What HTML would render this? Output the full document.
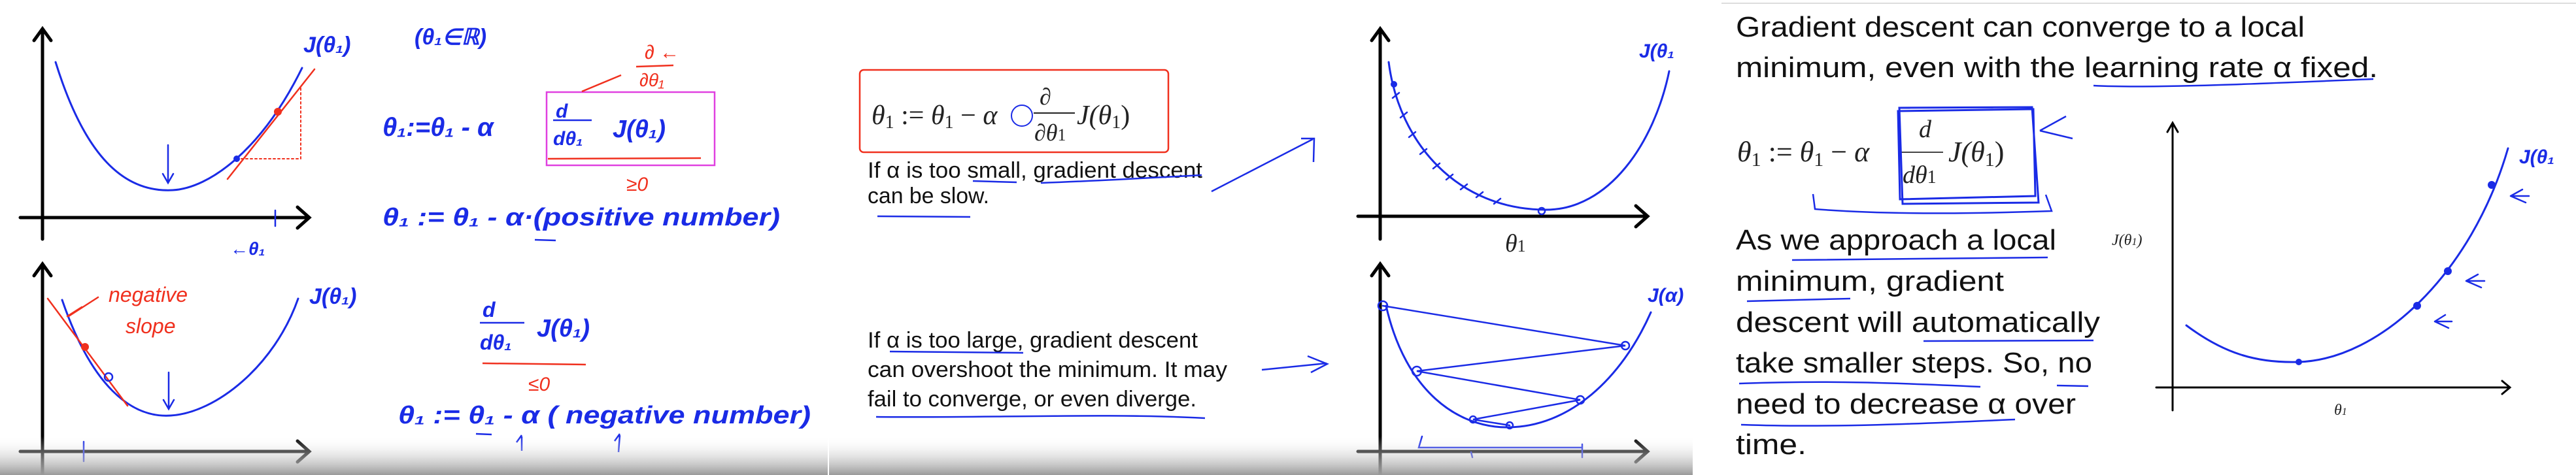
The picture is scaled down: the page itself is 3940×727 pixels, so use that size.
<!DOCTYPE html>
<html><head><meta charset="utf-8"><style>
html,body{margin:0;padding:0;background:#fff;}
svg{display:block;}
.hw{font-family:"Liberation Sans",sans-serif;font-style:italic;fill:#1a2be6;font-weight:bold;}
.hr{font-family:"Liberation Sans",sans-serif;font-style:italic;fill:#f0301e;}
.tx{font-family:"Liberation Sans",sans-serif;fill:#111;}
.mt{font-family:"Liberation Serif",serif;fill:#222;}
</style></head><body>
<svg width="3940" height="727" viewBox="0 0 3940 727" xmlns="http://www.w3.org/2000/svg">
<defs>
<linearGradient id="fade" x1="0" y1="0" x2="0" y2="1"><stop offset="0" stop-color="#fff" stop-opacity="0"/><stop offset="1" stop-color="#999"/></linearGradient>
</defs>
<rect width="3940" height="727" fill="#fff"/>

<!-- PANEL 1 -->
<g>
 <g stroke-linecap="round" fill="none">
  <path d="M65,366 L65,46 M52,62 L65,44 L78,62" stroke="#000" stroke-width="5"/>
  <path d="M31,333 L471,333 M455,317 L473,333 L455,349" stroke="#000" stroke-width="5"/>
  <path d="M85,95 C130,240 190,295 264,291 C320,288 400,230 462,104" stroke="#1a2be6" stroke-width="3"/>
  <path d="M348,274 L481,106" stroke="#f0301e" stroke-width="2.5"/>
  <path d="M362,243 L460,243 L460,134" stroke="#f0301e" stroke-width="2" stroke-dasharray="3,4"/>
  <path d="M257,222 L257,278 M249,266 L257,280 L265,266" stroke="#1a2be6" stroke-width="2.5"/>
  <line x1="421" y1="322" x2="421" y2="346" stroke="#1a2be6" stroke-width="2.5"/>
  <circle cx="425" cy="171" r="6" fill="#f0301e" stroke="none"/>
  <circle cx="362" cy="243" r="5" fill="#1a2be6" stroke="none"/>
 </g>
 <text x="464" y="80" class="hw" font-size="34">J(θ₁)</text>
 <text x="634" y="68" class="hw" font-size="34">(θ₁∈ℝ)</text>
 <text x="352" y="390" class="hw" font-size="28">←θ₁</text>
 <text x="585" y="208" class="hw" font-size="40">θ₁:=θ₁ - α</text>
 <rect x="836" y="141" width="257" height="112" fill="none" stroke="#e040e0" stroke-width="2.5"/>
 <text x="850" y="180" class="hw" font-size="30">d</text>
 <line x1="846" y1="184" x2="905" y2="184" stroke="#1a2be6" stroke-width="2.5"/>
 <text x="846" y="222" class="hw" font-size="30">dθ₁</text>
 <text x="937" y="210" class="hw" font-size="38">J(θ₁)</text>
 <text x="986" y="90" class="hr" font-size="30">∂ ←</text>
 <line x1="973" y1="102" x2="1030" y2="100" stroke="#f0301e" stroke-width="2.5"/>
 <text x="978" y="132" class="hr" font-size="28">∂θ₁</text>
 <path d="M950,115 L890,140 M838,243 L1072,242" stroke="#f0301e" stroke-width="2.5" fill="none"/>
 <text x="958" y="292" class="hr" font-size="30">≥0</text>
 <text x="585" y="345" class="hw" font-size="38" textLength="608" lengthAdjust="spacingAndGlyphs">θ₁ := θ₁ - α·(positive number)</text>
 <line x1="818" y1="367" x2="850" y2="368" stroke="#1a2be6" stroke-width="2.5"/>

 <g stroke-linecap="round" fill="none">
  <path d="M65,727 L65,406 M52,422 L65,404 L78,422" stroke="#000" stroke-width="5"/>
  <path d="M31,691 L471,691 M455,675 L473,691 L455,707" stroke="#000" stroke-width="5"/>
  <path d="M95,459 C140,590 200,640 261,636 C330,632 420,560 456,457" stroke="#1a2be6" stroke-width="3"/>
  <path d="M73,457 L195,621" stroke="#f0301e" stroke-width="2.5"/>
  <path d="M150,455 L105,484 M103,484 L125,470" stroke="#f0301e" stroke-width="2.5"/>
  <path d="M258,570 L258,625 M250,612 L258,626 L266,612" stroke="#1a2be6" stroke-width="2.5"/>
  <line x1="128" y1="676" x2="128" y2="706" stroke="#1a2be6" stroke-width="2.5"/>
  <circle cx="130" cy="531" r="6" fill="#f0301e" stroke="none"/>
  <circle cx="166" cy="577" r="6" stroke="#1a2be6" stroke-width="2.5"/>
 </g>
 <text x="166" y="462" class="hr" font-size="32">negative</text>
 <text x="192" y="510" class="hr" font-size="32">slope</text>
 <text x="473" y="465" class="hw" font-size="34">J(θ₁)</text>
 <text x="738" y="485" class="hw" font-size="32">d</text>
 <line x1="734" y1="494" x2="802" y2="494" stroke="#1a2be6" stroke-width="2.5"/>
 <text x="734" y="535" class="hw" font-size="32">dθ₁</text>
 <text x="821" y="515" class="hw" font-size="38">J(θ₁)</text>
 <line x1="738" y1="556" x2="896" y2="558" stroke="#f0301e" stroke-width="2.5"/>
 <text x="808" y="598" class="hr" font-size="30">≤0</text>
 <text x="609" y="648" class="hw" font-size="38" textLength="631" lengthAdjust="spacingAndGlyphs">θ₁ := θ₁ - α ( negative number)</text>
 <path d="M728,664 L752,665 M798,690 L798,668 M790,677 L798,666 M946,692 L948,666 M940,675 L948,664" stroke="#1a2be6" stroke-width="2.5" fill="none"/>
</g>

<!-- PANEL 2 -->
<g>
 <rect x="1315" y="107" width="472" height="126" rx="6" fill="none" stroke="#f0301e" stroke-width="2.5"/>
 <text x="1333" y="190" class="mt" font-size="42" font-style="italic">θ<tspan font-size="28" font-style="normal" dy="6">1</tspan><tspan dy="-6" font-style="normal"> := </tspan>θ<tspan font-size="28" font-style="normal" dy="6">1</tspan><tspan dy="-6" font-style="normal"> − </tspan>α</text>
 <circle cx="1563" cy="177" r="16" fill="none" stroke="#1a2be6" stroke-width="2"/>
 <text x="1590" y="160" class="mt" font-size="36" font-style="italic">∂</text>
 <line x1="1581" y1="173" x2="1644" y2="173" stroke="#222" stroke-width="2"/>
 <text x="1582" y="215" class="mt" font-size="36" font-style="italic">∂θ<tspan font-size="26" font-style="normal">1</tspan></text>
 <text x="1647" y="190" class="mt" font-size="42" font-style="italic">J(θ<tspan font-size="28" font-style="normal" dy="6">1</tspan><tspan dy="-6" font-style="normal">)</tspan></text>
 <text x="1327" y="272" class="tx" font-size="34" textLength="512" lengthAdjust="spacingAndGlyphs">If α is too small, gradient descent</text>
 <text x="1327" y="311" class="tx" font-size="34" textLength="186" lengthAdjust="spacingAndGlyphs">can be slow.</text>
 <path d="M1488,277 L1555,279 M1592,280 C1700,276 1760,272 1838,268 M1342,331 L1484,332" stroke="#1a2be6" stroke-width="2.5" fill="none"/>
 <path d="M1853,293 L2008,213 M1990,212 L2010,212 L2009,248" stroke="#1a2be6" stroke-width="2.5" fill="none"/>
 <text x="1327" y="532" class="tx" font-size="34" textLength="505" lengthAdjust="spacingAndGlyphs">If α is too large, gradient descent</text>
 <text x="1327" y="577" class="tx" font-size="34" textLength="550" lengthAdjust="spacingAndGlyphs">can overshoot the minimum. It may</text>
 <text x="1327" y="622" class="tx" font-size="34" textLength="503" lengthAdjust="spacingAndGlyphs">fail to converge, or even diverge.</text>
 <path d="M1361,538 L1565,540 M1340,638 C1500,640 1700,632 1843,640 M1930,566 L2029,556 M2000,545 L2030,557 L2005,570" stroke="#1a2be6" stroke-width="2.5" fill="none"/>
 <g fill="none" stroke-linecap="round">
  <path d="M2111,366 L2111,46 M2098,62 L2111,44 L2124,62" stroke="#000" stroke-width="5"/>
  <path d="M2077,331 L2518,331 M2502,315 L2520,331 L2502,347" stroke="#000" stroke-width="5"/>
  <path d="M2124,95 C2140,220 2230,321 2365,321 C2460,321 2530,220 2553,109" stroke="#1a2be6" stroke-width="3"/>
  <path d="M2130,150 l10,-8 M2142,180 l10,-8 M2155,210 l10,-8 M2172,236 l10,-8 M2192,258 l10,-8 M2212,275 l10,-8 M2234,290 l10,-8 M2258,302 l10,-8 M2285,312 l10,-8" stroke="#1a2be6" stroke-width="2.5"/>
  <circle cx="2132" cy="129" r="5" fill="#1a2be6"/>
  <circle cx="2358" cy="323" r="5" stroke="#1a2be6" stroke-width="2.5"/>
 </g>
 <text x="2507" y="88" class="hw" font-size="30">J(θ₁</text>
 <text x="2302" y="385" class="mt" font-size="38" font-style="italic">θ<tspan font-size="26" font-style="normal">1</tspan></text>
 <g fill="none" stroke-linecap="round">
  <path d="M2111,727 L2111,406 M2098,422 L2111,404 L2124,422" stroke="#000" stroke-width="5"/>
  <path d="M2077,691 L2518,691 M2502,675 L2520,691 L2502,707" stroke="#000" stroke-width="5"/>
  <path d="M2120,468 C2150,600 2230,654 2305,654 C2400,654 2480,580 2525,478" stroke="#1a2be6" stroke-width="3"/>
  <path d="M2115,468 L2486,529 L2167,568 L2417,612 L2253,642 L2309,651" stroke="#1a2be6" stroke-width="2.5"/>
  <circle cx="2115" cy="468" r="7" stroke="#1a2be6" stroke-width="2.5"/>
  <circle cx="2486" cy="529" r="6" stroke="#1a2be6" stroke-width="2.5"/>
  <circle cx="2167" cy="568" r="7" stroke="#1a2be6" stroke-width="2.5"/>
  <circle cx="2417" cy="612" r="6" stroke="#1a2be6" stroke-width="2.5"/>
  <circle cx="2253" cy="642" r="5" stroke="#1a2be6" stroke-width="2.5"/>
  <circle cx="2309" cy="651" r="5" stroke="#1a2be6" stroke-width="2.5"/>
  <path d="M2175,668 L2170,685 L2420,685 M2250,692 L2252,700 M2420,680 L2420,700" stroke="#1a2be6" stroke-width="2.5"/>
 </g>
 <text x="2520" y="462" class="hw" font-size="30">J(α)</text>
</g>

<rect x="0" y="667" width="2589" height="60" fill="url(#fade)"/>
<rect x="1266" y="0" width="2" height="727" fill="#fff"/>

<!-- PANEL 3 -->
<g>
 <line x1="2633" y1="5" x2="3940" y2="5" stroke="#ddd" stroke-width="2"/>
 <text x="2655" y="56" class="tx" font-size="44" textLength="870" lengthAdjust="spacingAndGlyphs">Gradient descent can converge to a local</text>
 <text x="2655" y="118" class="tx" font-size="44" textLength="982" lengthAdjust="spacingAndGlyphs">minimum, even with the learning rate α fixed.</text>
 <path d="M3202,131 C3300,136 3500,126 3630,121" stroke="#1a2be6" stroke-width="2.5" fill="none"/>
 <text x="2657" y="247" class="mt" font-size="44" font-style="italic" fill="#444">θ<tspan font-size="30" font-style="normal" dy="7">1</tspan><tspan dy="-7" font-style="normal"> := </tspan>θ<tspan font-size="30" font-style="normal" dy="7">1</tspan><tspan dy="-7" font-style="normal"> − </tspan>α</text>
 <text x="2935" y="210" class="mt" font-size="38" font-style="italic">d</text>
 <line x1="2903" y1="233" x2="2972" y2="233" stroke="#444" stroke-width="2"/>
 <text x="2910" y="280" class="mt" font-size="38" font-style="italic">dθ<tspan font-size="28" font-style="normal">1</tspan></text>
 <text x="2980" y="247" class="mt" font-size="44" font-style="italic">J(θ<tspan font-size="30" font-style="normal" dy="7">1</tspan><tspan dy="-7" font-style="normal">)</tspan></text>
 <path d="M2903,170 L3110,167 L3113,300 L2906,305 Z M2905,165 L3108,164 L3118,310 L2910,312 Z" stroke="#1a2be6" stroke-width="3" fill="none"/>
 <path d="M2773,297 L2776,320 C2900,330 3050,326 3138,323 L3129,298 M3120,200 L3160,178 M3120,200 L3170,212" stroke="#1a2be6" stroke-width="2.5" fill="none"/>
 <g class="tx" font-size="44">
  <text x="2655" y="382" textLength="490" lengthAdjust="spacingAndGlyphs">As we approach a local</text>
  <text x="2655" y="445" textLength="410" lengthAdjust="spacingAndGlyphs">minimum, gradient</text>
  <text x="2655" y="508" textLength="557" lengthAdjust="spacingAndGlyphs">descent will automatically</text>
  <text x="2655" y="570" textLength="545" lengthAdjust="spacingAndGlyphs">take smaller steps. So, no</text>
  <text x="2655" y="633" textLength="520" lengthAdjust="spacingAndGlyphs">need to decrease α over</text>
  <text x="2655" y="695" textLength="108" lengthAdjust="spacingAndGlyphs">time.</text>
 </g>
 <path d="M2741,398 L3132,394 M2672,461 L2830,457 M2942,522 L3202,521 M2660,587 C2800,582 2900,586 3029,592 M3146,590 L3194,591 M2663,650 C2800,655 2950,648 3082,642" stroke="#1a2be6" stroke-width="2.5" fill="none"/>
 <g fill="none" stroke-linecap="round">
  <path d="M3323,628 L3323,190 M3315,202 L3323,188 L3331,202" stroke="#000" stroke-width="3"/>
  <path d="M3298,593 L3837,593 M3827,583 L3839,593 L3827,603" stroke="#000" stroke-width="3"/>
  <path d="M3344,498 C3400,540 3450,556 3516,554 C3640,550 3780,420 3836,227" stroke="#1a2be6" stroke-width="3"/>
  <circle cx="3516" cy="554" r="5" fill="#1a2be6"/>
  <circle cx="3697" cy="468" r="6" fill="#1a2be6"/>
  <circle cx="3744" cy="415" r="6" fill="#1a2be6"/>
  <circle cx="3811" cy="283" r="6" fill="#1a2be6"/>
  <path d="M3840,300 L3858,290 M3840,300 L3863,310 M3840,300 L3868,300 M3772,430 L3790,420 M3772,430 L3795,440 M3772,430 L3800,430 M3724,492 L3740,482 M3724,492 L3745,502 M3724,492 L3750,492" stroke="#1a2be6" stroke-width="2.5"/>
 </g>
 <text x="3230" y="375" class="mt" font-size="24" font-style="italic" fill="#666">J(θ<tspan font-size="16">1</tspan>)</text>
 <text x="3570" y="635" class="mt" font-size="24" font-style="italic" fill="#666">θ<tspan font-size="16">1</tspan></text>
 <text x="3853" y="250" class="hw" font-size="30">J(θ₁</text>
</g>
</svg>
</body></html>
